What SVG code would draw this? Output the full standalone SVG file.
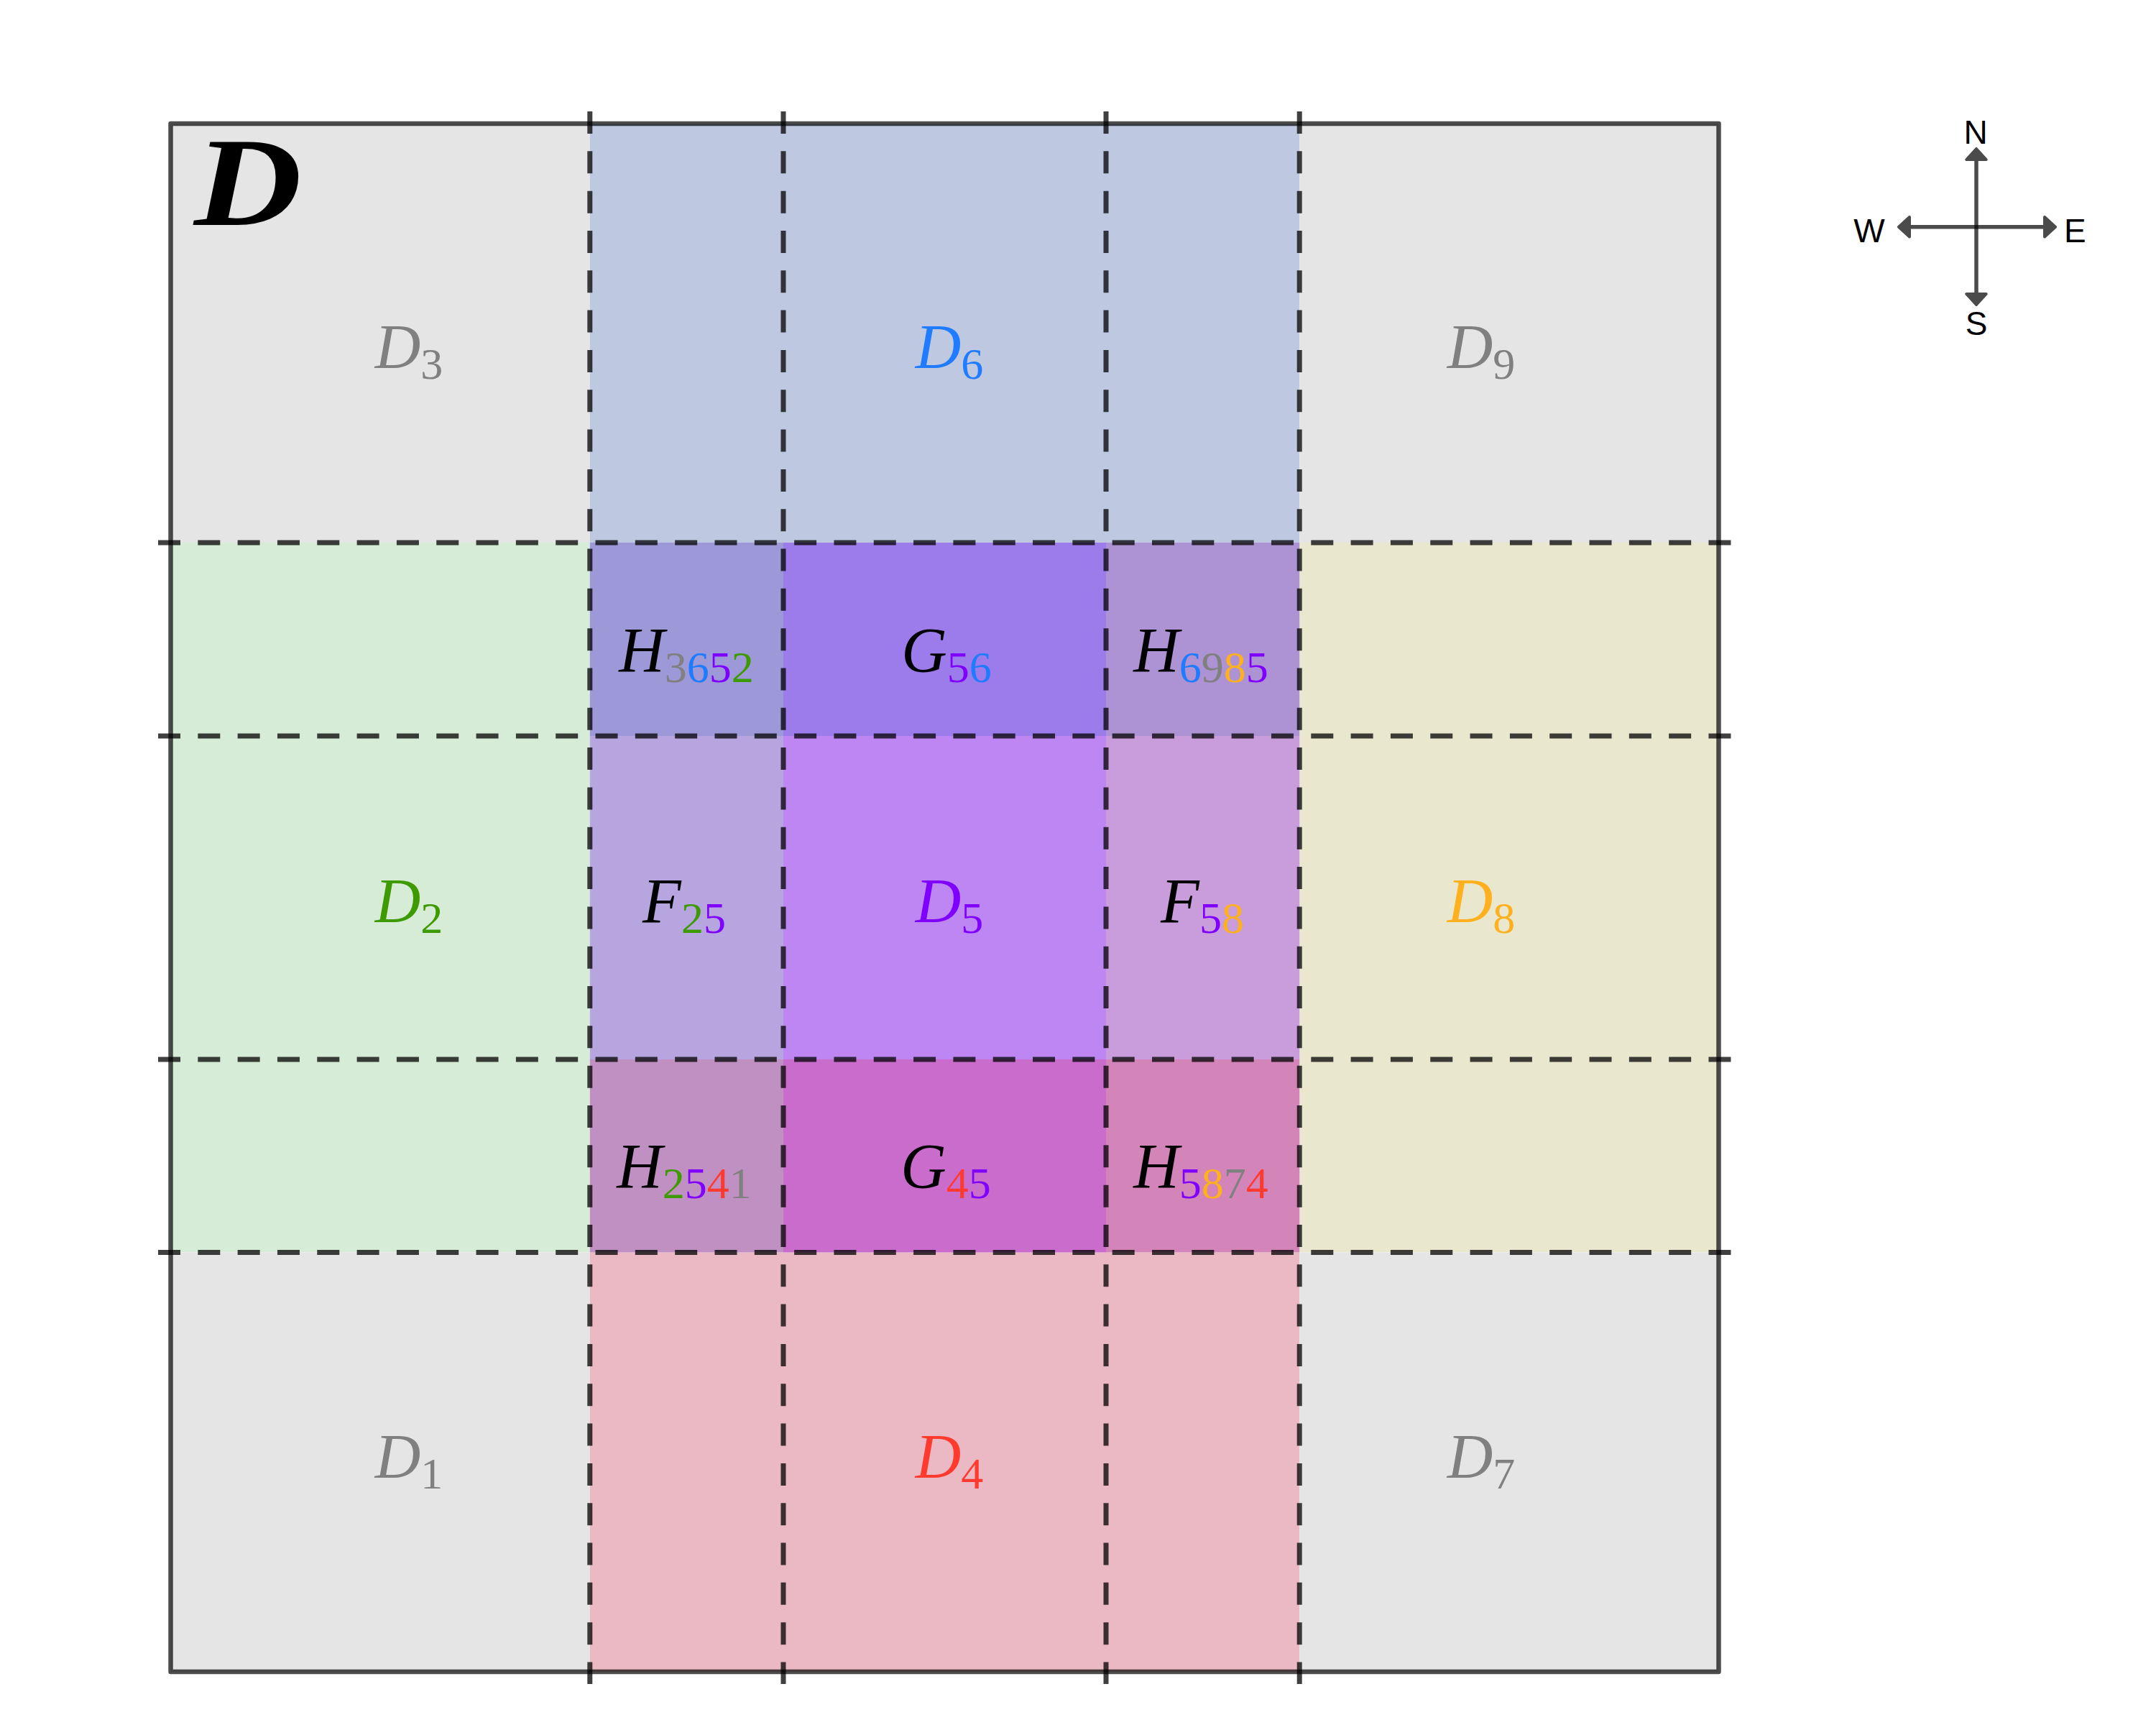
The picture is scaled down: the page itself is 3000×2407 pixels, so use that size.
<svg xmlns="http://www.w3.org/2000/svg" width="3000" height="2407" viewBox="0 0 3000 2407">
<style>
.lbl{font-family:"Liberation Serif","Times New Roman",serif;font-size:88px;font-style:italic;text-anchor:middle}
.sub{font-size:62px;font-style:normal}
.dash{stroke:#000;stroke-opacity:0.75;stroke-width:7;stroke-dasharray:31 24.32;fill:none}
.box{fill:none;stroke:#000;stroke-opacity:0.7;stroke-width:6.5;stroke-linejoin:round}
.cmp{font-family:"Liberation Sans",Arial,sans-serif;font-size:46px;fill:#000}
.arr{opacity:0.7}
.arr line{stroke:#000;stroke-width:5.5}
.arr path{fill:#000;stroke:#000;stroke-width:4;stroke-linejoin:round}
</style>
<rect width="3000" height="2407" fill="#fff"/>
<g id="D3"><rect x="237.5" y="172" width="583.3" height="583" fill="#e5e5e5"/><text class="lbl" x="569" y="512" fill="#808080">D<tspan class="sub" dy="15">3</tspan></text></g>
<g id="D6"><rect x="820.8" y="172" width="987.4" height="583" fill="#bec9e1"/><text class="lbl" x="1321" y="512" fill="#1f7bff">D<tspan class="sub" dy="15">6</tspan></text></g>
<g id="D9"><rect x="1808.2" y="172" width="583.3" height="583" fill="#e5e5e5"/><text class="lbl" x="2061" y="512" fill="#808080">D<tspan class="sub" dy="15">9</tspan></text></g>
<g id="D2"><rect x="237.5" y="755" width="583.3" height="987.5" fill="#d6ecd6"/><text class="lbl" x="569" y="1283" fill="#3d9a00">D<tspan class="sub" dy="15">2</tspan></text></g>
<g id="D8"><rect x="1808.2" y="755" width="583.3" height="987.5" fill="#e9e8cf"/><text class="lbl" x="2061" y="1283" fill="#ffb01f">D<tspan class="sub" dy="15">8</tspan></text></g>
<g id="D1"><rect x="237.5" y="1742.5" width="583.3" height="583.5" fill="#e5e5e5"/><text class="lbl" x="569" y="2056" fill="#808080">D<tspan class="sub" dy="15">1</tspan></text></g>
<g id="D4"><rect x="820.8" y="1742.5" width="987.4" height="583.5" fill="#eab9c4"/><text class="lbl" x="1321" y="2056" fill="#ff3b30">D<tspan class="sub" dy="15">4</tspan></text></g>
<g id="D7"><rect x="1808.2" y="1742.5" width="583.3" height="583.5" fill="#e5e5e5"/><text class="lbl" x="2061" y="2056" fill="#808080">D<tspan class="sub" dy="15">7</tspan></text></g>
<g id="H3652"><rect x="820.8" y="755" width="269.2" height="269" fill="#9d98d8"/><text class="lbl" x="955" y="934" fill="#000">H<tspan class="sub" dy="15" fill="#808080">3</tspan><tspan class="sub" fill="#1f7bff">6</tspan><tspan class="sub" fill="#8000ff">5</tspan><tspan class="sub" fill="#3d9a00">2</tspan></text></g>
<g id="G56"><rect x="1090" y="755" width="449" height="269" fill="#9c7ceb"/><text class="lbl" x="1317" y="934" fill="#000">G<tspan class="sub" dy="15" fill="#8000ff">5</tspan><tspan class="sub" fill="#1f7bff">6</tspan></text></g>
<g id="H6985"><rect x="1539" y="755" width="269.2" height="269" fill="#ad93d3"/><text class="lbl" x="1671" y="934" fill="#000">H<tspan class="sub" dy="15" fill="#1f7bff">6</tspan><tspan class="sub" fill="#808080">9</tspan><tspan class="sub" fill="#ffb01f">8</tspan><tspan class="sub" fill="#8000ff">5</tspan></text></g>
<g id="F25"><rect x="820.8" y="1024" width="269.2" height="450" fill="#b6a5df"/><text class="lbl" x="952" y="1283" fill="#000">F<tspan class="sub" dy="15" fill="#3d9a00">2</tspan><tspan class="sub" fill="#8000ff">5</tspan></text></g>
<g id="D5"><rect x="1090" y="1024" width="449" height="450" fill="#bd86f3"/><text class="lbl" x="1321" y="1283" fill="#8000ff">D<tspan class="sub" dy="15">5</tspan></text></g>
<g id="F58"><rect x="1539" y="1024" width="269.2" height="450" fill="#c99cdb"/><text class="lbl" x="1673" y="1283" fill="#000">F<tspan class="sub" dy="15" fill="#8000ff">5</tspan><tspan class="sub" fill="#ffb01f">8</tspan></text></g>
<g id="H2541"><rect x="820.8" y="1474" width="269.2" height="268.5" fill="#c090c3"/><text class="lbl" x="952" y="1652" fill="#000">H<tspan class="sub" dy="15" fill="#3d9a00">2</tspan><tspan class="sub" fill="#8000ff">5</tspan><tspan class="sub" fill="#ff3b30">4</tspan><tspan class="sub" fill="#808080">1</tspan></text></g>
<g id="G45"><rect x="1090" y="1474" width="449" height="268.5" fill="#c96ccc"/><text class="lbl" x="1316" y="1652" fill="#000">G<tspan class="sub" dy="15" fill="#ff3b30">4</tspan><tspan class="sub" fill="#8000ff">5</tspan></text></g>
<g id="H5874"><rect x="1539" y="1474" width="269.2" height="268.5" fill="#d384b8"/><text class="lbl" x="1671" y="1652" fill="#000">H<tspan class="sub" dy="15" fill="#8000ff">5</tspan><tspan class="sub" fill="#ffb01f">8</tspan><tspan class="sub" fill="#808080">7</tspan><tspan class="sub" fill="#ff3b30">4</tspan></text></g>
<g id="connectors">
<rect class="box" x="237.5" y="172" width="2154" height="2154"/>
<line class="dash" x1="820.8" y1="155" x2="820.8" y2="2343"/>
<line class="dash" x1="1090" y1="155" x2="1090" y2="2343"/>
<line class="dash" x1="1539" y1="155" x2="1539" y2="2343"/>
<line class="dash" x1="1808.2" y1="155" x2="1808.2" y2="2343"/>
<line class="dash" x1="220" y1="755" x2="2409" y2="755"/>
<line class="dash" x1="220" y1="1024" x2="2409" y2="1024"/>
<line class="dash" x1="220" y1="1474" x2="2409" y2="1474"/>
<line class="dash" x1="220" y1="1742.5" x2="2409" y2="1742.5"/>
</g>
<g id="title"><text x="270" y="313" font-family="Liberation Serif,serif" font-size="176" font-weight="bold" font-style="italic" textLength="150" lengthAdjust="spacingAndGlyphs" fill="#000">D</text></g>
<g id="compass">
<g class="arr"><line x1="2655" y1="315.7" x2="2846" y2="315.7"/><path d="M2642,315.7 L2657,302 L2657,329.4 Z"/><path d="M2860,315.7 L2845,302 L2845,329.4 Z"/></g>
<g class="arr"><line x1="2750" y1="220" x2="2750" y2="410"/><path d="M2750,207 L2736.3,222 L2763.7,222 Z"/><path d="M2750,424 L2736.3,409 L2763.7,409 Z"/></g>
<text class="cmp" x="2749" y="200" text-anchor="middle">N</text>
<text class="cmp" x="2601" y="337" text-anchor="middle">W</text>
<text class="cmp" x="2872" y="337">E</text>
<text class="cmp" x="2750" y="466" text-anchor="middle">S</text>
</g>
</svg>
